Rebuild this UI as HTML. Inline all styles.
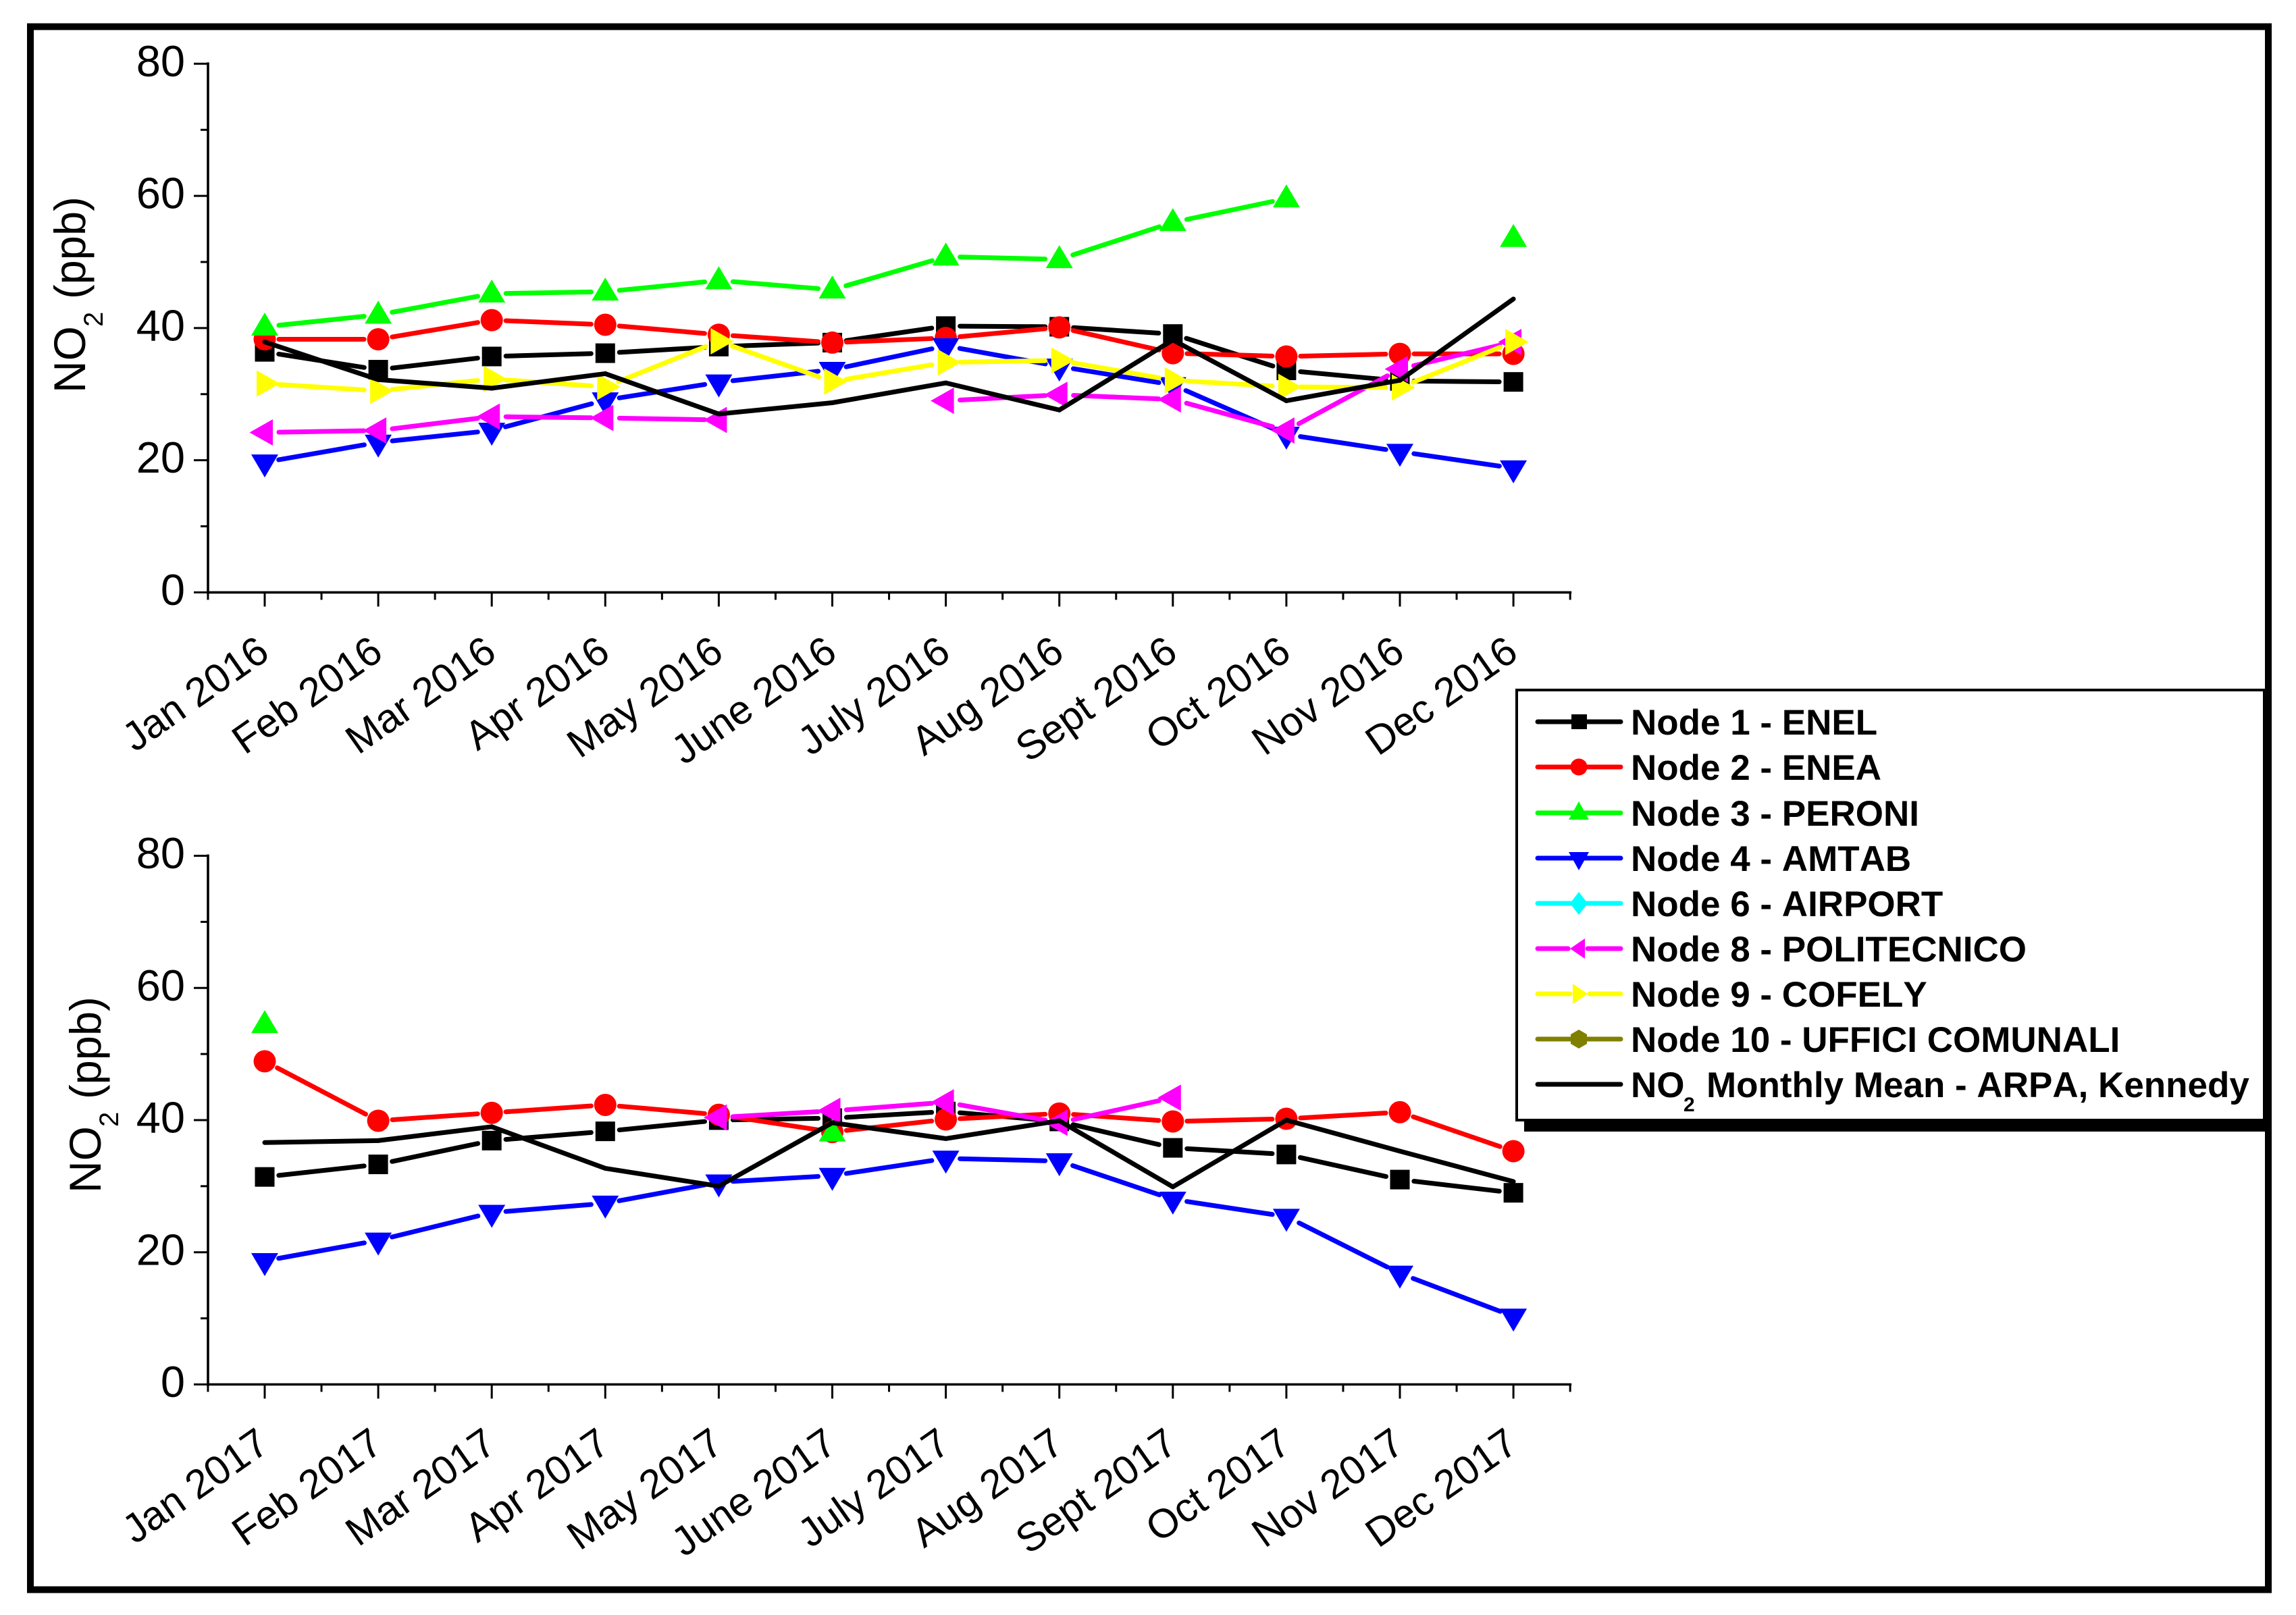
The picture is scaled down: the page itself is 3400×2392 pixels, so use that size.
<!DOCTYPE html>
<html>
<head>
<meta charset="utf-8">
<title>NO2 monthly means 2016-2017</title>
<style>
html,body{margin:0;padding:0;background:#fff;}
svg{display:block;}
text{font-family:"Liberation Sans",Arial,sans-serif;fill:#000;font-kerning:none;}
.leg{font-weight:bold;font-size:53px;}
</style>
</head>
<body>
<svg id="chart" xmlns="http://www.w3.org/2000/svg" width="3400" height="2392" viewBox="0 0 3400 2392">
  <rect x="0" y="0" width="3400" height="2392" fill="#fff"/>
  <rect x="45" y="39.5" width="3314" height="2315" fill="none" stroke="#000" stroke-width="10"/>
  <g id="plots"></g>

  <g>
    <rect x="2257" y="1035" width="1107" height="641" fill="#000"/>
    <rect x="2246" y="1022" width="1107" height="637" fill="#fff" stroke="#000" stroke-width="4"/>

    <g>
      <line x1="2277" y1="1069" x2="2400" y2="1069" stroke="#000" stroke-width="7" stroke-linecap="round"/>
      <rect x="2327" y="1058" width="23" height="22" fill="#000"/>
      <text class="leg" x="2415" y="1088">Node 1 - ENEL</text>
    </g>
    <g>
      <line x1="2277" y1="1136" x2="2400" y2="1136" stroke="#f00" stroke-width="7" stroke-linecap="round"/>
      <circle cx="2338" cy="1136" r="12.5" fill="#f00"/>
      <text class="leg" x="2415" y="1155">Node 2 - ENEA</text>
    </g>
    <g>
      <line x1="2277" y1="1204" x2="2400" y2="1204" stroke="#0f0" stroke-width="7" stroke-linecap="round"/>
      <polygon points="2338,1187 2353,1214 2323,1214" fill="#0f0"/>
      <text class="leg" x="2415" y="1223">Node 3 - PERONI</text>
    </g>
    <g>
      <line x1="2277" y1="1271" x2="2400" y2="1271" stroke="#00f" stroke-width="7" stroke-linecap="round"/>
      <polygon points="2323,1262 2353,1262 2338,1289" fill="#00f"/>
      <text class="leg" x="2415" y="1290">Node 4 - AMTAB</text>
    </g>
    <g>
      <line x1="2277" y1="1338" x2="2400" y2="1338" stroke="#0ff" stroke-width="7" stroke-linecap="round"/>
      <polygon points="2338,1321 2351,1338 2338,1355 2325,1338" fill="#0ff"/>
      <text class="leg" x="2415" y="1357">Node 6 - AIRPORT</text>
    </g>
    <g>
      <line x1="2277" y1="1405" x2="2322" y2="1405" stroke="#f0f" stroke-width="7" stroke-linecap="round"/>
      <line x1="2351" y1="1405" x2="2400" y2="1405" stroke="#f0f" stroke-width="7" stroke-linecap="round"/>
      <polygon points="2325,1405 2347,1390 2347,1420" fill="#f0f"/>
      <text class="leg" x="2415" y="1424">Node 8 - POLITECNICO</text>
    </g>
    <g>
      <line x1="2277" y1="1472" x2="2325" y2="1472" stroke="#ff0" stroke-width="7" stroke-linecap="round"/>
      <line x1="2354" y1="1472" x2="2400" y2="1472" stroke="#ff0" stroke-width="7" stroke-linecap="round"/>
      <polygon points="2329,1457 2351,1472 2329,1487" fill="#ff0"/>
      <text class="leg" x="2415" y="1491">Node 9 - COFELY</text>
    </g>
    <g>
      <line x1="2277" y1="1539" x2="2400" y2="1539" stroke="#808000" stroke-width="7" stroke-linecap="round"/>
      <polygon points="2338,1525 2350,1532 2350,1546 2338,1553 2326,1546 2326,1532" fill="#808000"/>
      <text class="leg" x="2415" y="1558">Node 10 - UFFICI COMUNALI</text>
    </g>
    <g>
      <line x1="2277" y1="1606" x2="2400" y2="1606" stroke="#000" stroke-width="7" stroke-linecap="round"/>
      <text class="leg" x="2415" y="1625">NO</text>
      <text class="leg" x="2493" y="1646" style="font-size:30px">2</text>
      <text class="leg" x="2527" y="1625">Monthly Mean - ARPA, Kennedy</text>
    </g>
  </g>
</svg>

<script>
// ---- categories and ticks ----
const labels2016 = ["Jan 2016","Feb 2016","Mar 2016","Apr 2016","May 2016","June 2016","July 2016","Aug 2016","Sept 2016","Oct 2016","Nov 2016","Dec 2016"];
const labels2017 = ["Jan 2017","Feb 2017","Mar 2017","Apr 2017","May 2017","June 2017","July 2017","Aug 2017","Sept 2017","Oct 2017","Nov 2017","Dec 2017"];
const yTickLabels = [0,20,40,60,80];
const yMinorTicks = [10,30,50,70];

// ---- 2016 series ----
const node1_2016 = [36.4,33.7,35.7,36.2,37.2,37.8,40.3,40.2,39.1,33.6,32.0,31.85];
const node2_2016 = [38.3,38.3,41.2,40.5,39.0,37.8,38.5,40.1,36.2,35.7,36.1,36.1];
const node3_2016 = [40.2,42.0,45.2,45.5,47.2,45.8,50.8,50.4,56.0,59.6,null,53.6];
const node4_2016 = [19.7,22.7,24.5,29.1,31.8,33.7,37.3,34.2,31.4,23.9,21.3,18.8];
const node8_2016 = [24.2,24.5,26.6,26.4,26.1,null,29.0,29.9,29.2,24.5,33.8,37.9];
const node9_2016 = [31.6,30.5,32.3,31.1,38.0,31.9,34.8,35.1,32.1,31.1,31.0,37.9];
const arpa_2016  = [37.9,32.2,30.9,33.1,27.0,28.7,31.7,27.6,38.2,29.0,32.1,44.4];

// ---- 2017 series ----
const node1_2017 = [31.4,33.3,36.9,38.3,40.0,40.3,41.3,39.8,35.8,34.8,31.0,29.0];
const node2_2017 = [48.9,39.9,41.1,42.3,40.8,38.2,40.1,41.0,39.8,40.2,41.2,35.3];
const node3_2017 = [54.5,null,null,null,null,38.1,null,null,null,null,null,null];
const node4_2017 = [18.7,21.8,26.0,27.4,30.6,31.6,34.2,33.8,28.0,25.4,16.8,10.3];
const node8_2017 = [null,null,null,null,40.4,41.4,42.7,39.6,43.4,null,null,null];
const node9_2017 = [null,null,null,null,null,null,null,null,null,null,null,null];
const arpa_2017  = [36.6,36.9,39.0,32.7,30.0,39.6,37.2,39.9,29.9,40.0,35.3,30.7];

// ---- axis functions ----
const NS = "http://www.w3.org/2000/svg";
const yMax = 80;
const yHeight = 783;
function xPos(i){ return 392 + i * 168.1; }
function yPos(v, baseY){ return baseY - (v / yMax) * yHeight; }

function el(tag, attrs, parent){
  const e = document.createElementNS(NS, tag);
  for (const k in attrs) e.setAttribute(k, attrs[k]);
  parent.appendChild(e);
  return e;
}

const GAP = 21;
function marker(kind, x, y, color, parent){
  let m;
  if (kind === "square") m = el("rect",{x:x-14.5,y:y-14.5,width:29,height:29,fill:color},parent);
  else if (kind === "circle") m = el("circle",{cx:x,cy:y,r:16.5,fill:color},parent);
  else if (kind === "up") m = el("polygon",{points:`${x},${y-21} ${x+20},${y+13} ${x-20},${y+13}`,fill:color},parent);
  else if (kind === "down") m = el("polygon",{points:`${x-20},${y-11.5} ${x+20},${y-11.5} ${x},${y+22.5}`,fill:color},parent);
  else if (kind === "left") m = el("polygon",{points:`${x-22.5},${y} ${x+12},${y-19.5} ${x+12},${y+19.5}`,fill:color},parent);
  else if (kind === "right") m = el("polygon",{points:`${x-12},${y-19.5} ${x+22.5},${y} ${x-12},${y+19.5}`,fill:color},parent);
  return m;
}

function drawSeries(name, values, color, kind, baseY, parent){
  const g = el("g",{},parent);
  
  
  for (let i = 0; i < values.length - 1; i++){
    if (values[i] === null || values[i+1] === null) continue;
    const x1 = xPos(i), y1 = yPos(values[i], baseY), x2 = xPos(i+1), y2 = yPos(values[i+1], baseY);
    const d = Math.hypot(x2-x1, y2-y1);
    const gap = kind ? GAP : 0;
    const ux = (x2-x1)/d, uy = (y2-y1)/d;
    const seg = el("line",{x1:x1+ux*gap,y1:y1+uy*gap,x2:x2-ux*gap,y2:y2-uy*gap,stroke:color,"stroke-width":7,"stroke-linecap":"round"},g);
    
    
  }
  if (kind){
    values.forEach(function(v,i){
      if (v === null) return;
      const mk = marker(kind, xPos(i), yPos(v, baseY), color, g);
      
      
    });
  }
}

function drawAxes(prefix, labels, baseY, titleX, titleY, parent){
  const top = baseY - yHeight;
  const yAxis = el("line",{x1:308,y1:top-2,x2:308,y2:baseY+2,stroke:"#000","stroke-width":3.6},parent);
  
  
  const xAxis = el("line",{x1:306,y1:baseY,x2:xPos(11.5)+2,y2:baseY,stroke:"#000","stroke-width":3.6},parent);
  
  

  yTickLabels.forEach(function(v){
    const y = yPos(v, baseY);
    const t = el("line",{x1:287,y1:y,x2:308,y2:y,stroke:"#000","stroke-width":3},parent);
    
    
    const lab = el("text",{x:274,y:y+18.5,"text-anchor":"end","font-size":65},parent);
    
    
    lab.textContent = v;
  });
  yMinorTicks.forEach(function(v){
    const y = yPos(v, baseY);
    const t = el("line",{x1:297,y1:y,x2:308,y2:y,stroke:"#000","stroke-width":3},parent);
    
    
  });
  labels.forEach(function(txt,i){
    const x = xPos(i);
    const t = el("line",{x1:x,y1:baseY,x2:x,y2:baseY+21,stroke:"#000","stroke-width":3},parent);
    
    
    const lab = el("text",{transform:`translate(${x+10},${baseY+96}) rotate(-35)`,"text-anchor":"end","font-size":60},parent);
    
    
    lab.textContent = txt;
  });
  for (let i = -0.5; i <= 11.5; i += 1){
    const x = xPos(i);
    const t = el("line",{x1:x,y1:baseY,x2:x,y2:baseY+11,stroke:"#000","stroke-width":3},parent);
    
    
  }

  const title = el("g",{transform:`translate(${titleX},${titleY}) rotate(-90)`},parent);
  
  
  const t1 = el("text",{x:0,y:0,"font-size":66},title);
  t1.textContent = "NO";
  const t2 = el("text",{x:98,y:26,"font-size":40},title);
  t2.textContent = "2";
  const t3 = el("text",{x:139,y:0,"font-size":65},title);
  t3.textContent = "(ppb)";
}

function drawPlot(prefix, labels, baseY, titleX, titleY, s1, s2, s3, s4, s8, s9, arpa){
  const root = document.getElementById("plots");
  const g = el("g",{},root);
  
  
  drawAxes(prefix, labels, baseY, titleX, titleY, g);
  drawSeries("series-node-1-enel", s1, "#000", "square", baseY, g);
  drawSeries("series-node-2-enea", s2, "#f00", "circle", baseY, g);
  drawSeries("series-node-3-peroni", s3, "#0f0", "up", baseY, g);
  drawSeries("series-node-4-amtab", s4, "#00f", "down", baseY, g);
  drawSeries("series-node-8-politecnico", s8, "#f0f", "left", baseY, g);
  drawSeries("series-node-9-cofely", s9, "#ff0", "right", baseY, g);
  drawSeries("series-arpa-monthly-mean", arpa, "#000", null, baseY, g);
}

drawPlot("plot-2016", labels2016, 877.4, 126, 582, node1_2016, node2_2016, node3_2016, node4_2016, node8_2016, node9_2016, arpa_2016);
drawPlot("plot-2017", labels2017, 2050.5, 149, 1767, node1_2017, node2_2017, node3_2017, node4_2017, node8_2017, node9_2017, arpa_2017);
</script>
</body>
</html>
